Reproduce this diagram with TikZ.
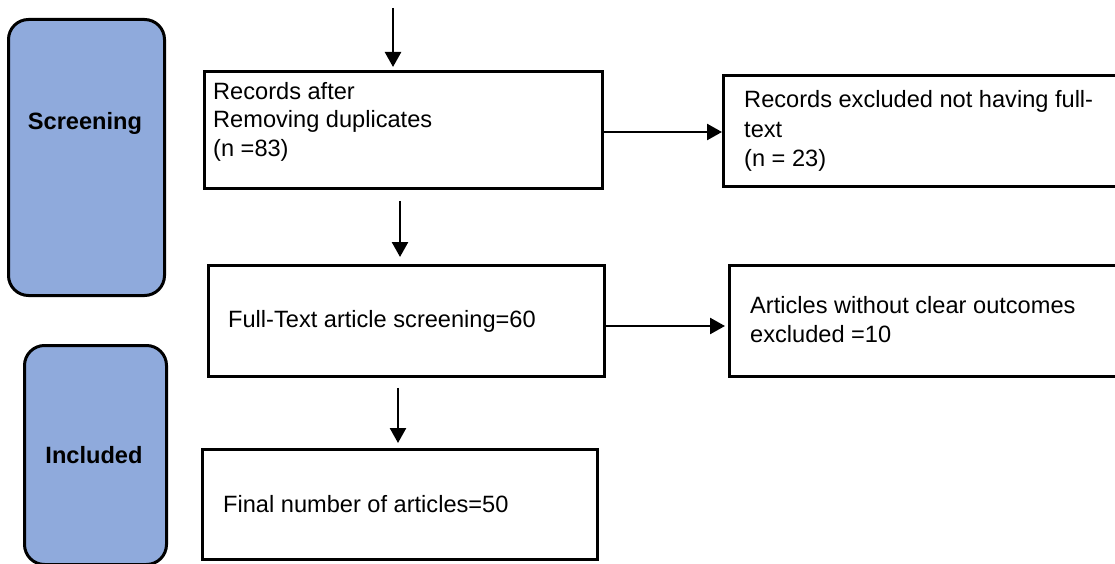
\documentclass[tikz,border=0pt]{standalone}
\usepackage{fontspec}
\setmainfont{Liberation Sans}
\usetikzlibrary{arrows.meta}
\definecolor{phase}{RGB}{143,170,220}
\begin{document}
\begin{tikzpicture}[x=1pt,y=-1pt,
  box/.style={draw=black,line width=2.8pt,fill=white,rectangle,inner sep=0pt,anchor=north west},
  phasebox/.style={draw=black,line width=3pt,fill=phase,rounded corners=20pt,inner sep=0pt,anchor=north west},
  txt/.style={anchor=base west,inner sep=0pt,font=\fontsize{23.6}{29}\selectfont},
  phasetxt/.style={anchor=base,inner sep=0pt,font=\fontsize{23.6}{29}\selectfont\bfseries},
  arr/.style={line width=2.5pt,-{Triangle[length=15pt,width=16pt]}}]
\useasboundingbox (0,0) rectangle (1115,564);
% phase boxes
\node[phasebox,minimum width=156pt,minimum height=276pt] (screen) at (7,18) {};
\node[phasetxt] (screenlbl) at (85,130) {Screening};
\node[phasebox,minimum width=142pt,minimum height=219pt] (incl) at (23,344) {};
\node[phasetxt] (incllbl) at (94,463) {Included};
% flow boxes
\node[box,minimum width=398pt,minimum height=117pt] (b1) at (203,70) {};
\node[txt] (b1a) at (213,100) {Records after};
\node[txt] (b1b) at (213,128) {Removing duplicates};
\node[txt] (b1c) at (213,157) {(n =83)};
\node[box,minimum width=400pt,minimum height=111pt] (r1) at (722,74) {};
\node[txt] (r1a) at (744,108) {Records excluded not having full-};
\node[txt] (r1b) at (744,138) {text};
\node[txt] (r1c) at (744,167) {(n = 23)};
\node[box,minimum width=396pt,minimum height=111pt] (b2) at (207,264) {};
\node[txt] (b2a) at (228,327) {Full-Text article screening=60};
\node[box,minimum width=400pt,minimum height=111pt] (r2) at (728,264) {};
\node[txt] (r2a) at (750,313) {Articles without clear outcomes};
\node[txt] (r2b) at (750,342) {excluded =10};
\node[box,minimum width=395pt,minimum height=110pt] (b3) at (201,448) {};
\node[txt] (b3a) at (223,512) {Final number of articles=50};
% connectors
\coordinate (top) at (393,8);
\coordinate (a1y) at (0,132);
\coordinate (a2x) at (400,0);
\coordinate (a2y) at (0,326);
\coordinate (a3x) at (398,0);
\draw[arr,shorten >=3pt] (top) -- (top |- b1.north);
\draw[arr] (b1.east |- a1y) -- (r1.west |- a1y);
\draw[arr,shorten <=11pt,shorten >=7pt] (b1.south -| a2x) -- (b2.north -| a2x);
\draw[arr,shorten >=3pt] (b2.east |- a2y) -- (r2.west |- a2y);
\draw[arr,shorten <=10pt,shorten >=5pt] (b2.south -| a3x) -- (b3.north -| a3x);
\end{tikzpicture}
\end{document}
